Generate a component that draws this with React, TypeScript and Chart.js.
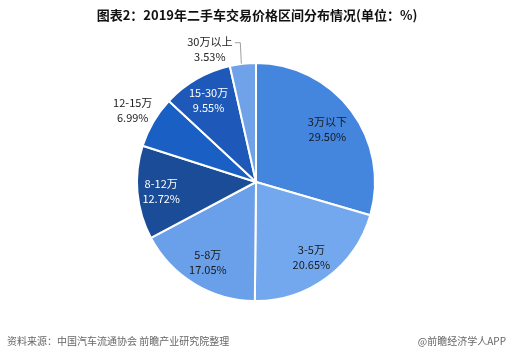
import React, { useEffect, useRef } from "react";
import { Chart, registerables } from "chart.js";

Chart.register(...registerables);

const categories = ["3万以下", "3-5万", "5-8万", "8-12万", "12-15万", "15-30万", "30万以上"];
const values = [29.5, 20.65, 17.05, 12.72, 6.99, 9.55, 3.53];
const valueLabels = ["29.50%", "20.65%", "17.05%", "12.72%", "6.99%", "9.55%", "3.53%"];
const colors = ["#4485de", "#74a8ee", "#6a9fe9", "#1a4c98", "#1a5fc4", "#1e58b8", "#6fa2e8"];
const labelColors = ["#1a1a1a", "#1a1a1a", "#1a1a1a", "#ffffff", "#222222", "#ffffff", "#222222"];
const labelRadius = [0.75, 0.78, 0.78, 0.8, 1.2, 0.8, 0];

const titleText = "图表2：2019年二手车交易价格区间分布情况(单位：%)";
const sourceText = "资料来源：中国汽车流通协会 前瞻产业研究院整理";
const brandText = "@前瞻经济学人APP";

const FONT = '"Noto Sans CJK SC", "Noto Sans", sans-serif';

const labelPlugin = {
  id: "customLabels",
  afterDraw(chart: any) {
    const ctx = chart.ctx as CanvasRenderingContext2D;
    const meta = chart.getDatasetMeta(0);
    ctx.save();
    ctx.textAlign = "center";
    ctx.textBaseline = "middle";
    ctx.font = `11px ${FONT}`;
    meta.data.forEach((arc: any, i: number) => {
      const { x, y, startAngle, endAngle, outerRadius } = arc.getProps(
        ["x", "y", "startAngle", "endAngle", "outerRadius"],
        true
      );
      const mid = (startAngle + endAngle) / 2;
      ctx.fillStyle = labelColors[i];
      if (labelRadius[i] > 0) {
        const r = outerRadius * labelRadius[i];
        const lx = x + Math.cos(mid) * r;
        const ly = y + Math.sin(mid) * r;
        ctx.fillText(categories[i], lx, ly - 7);
        ctx.fillText(valueLabels[i], lx, ly + 8);
      } else {
        const ex = x + Math.cos(mid) * outerRadius;
        const ey = y + Math.sin(mid) * outerRadius;
        const topY = ey - 21;
        ctx.strokeStyle = "#a0a0a0";
        ctx.lineWidth = 1;
        ctx.beginPath();
        ctx.moveTo(ex - 1.5, ey);
        ctx.lineTo(ex - 2.5, topY);
        ctx.lineTo(ex - 8, topY);
        ctx.stroke();
        ctx.fillText(categories[i], ex - 33, topY - 1);
        ctx.fillText(valueLabels[i], ex - 33, topY + 14);
      }
    });
    // title
    ctx.fillStyle = "#111111";
    ctx.font = `bold 13px ${FONT}`;
    ctx.textAlign = "center";
    ctx.fillText(titleText, 257, 15);
    // footer
    ctx.fillStyle = "#666666";
    ctx.font = `10px ${FONT}`;
    ctx.textAlign = "left";
    ctx.fillText(sourceText, 7, 341);
    ctx.textAlign = "right";
    ctx.fillText(brandText, 506, 341);
    ctx.restore();
  },
};

export default function App() {
  const ref = useRef<HTMLCanvasElement | null>(null);
  useEffect(() => {
    document.body.style.margin = "0";
    const canvas = ref.current;
    if (!canvas) return;
    const chart = new Chart(canvas, {
      type: "pie",
      data: {
        labels: categories,
        datasets: [
          {
            data: values,
            backgroundColor: colors,
            borderColor: "#ffffff",
            borderWidth: 2,
          },
        ],
      },
      options: {
        animation: false,
        responsive: false,
        devicePixelRatio: 1,
        layout: { padding: { top: 62, bottom: 59, left: 136, right: 136 } },
        plugins: {
          legend: { display: false },
          tooltip: { enabled: false },
          title: { display: false },
        },
      },
      plugins: [labelPlugin],
    });
    return () => chart.destroy();
  }, []);
  return (
    <div style={{ width: 512, height: 361, background: "#ffffff" }}>
      <canvas ref={ref} width={512} height={361} style={{ display: "block" }} />
    </div>
  );
}
